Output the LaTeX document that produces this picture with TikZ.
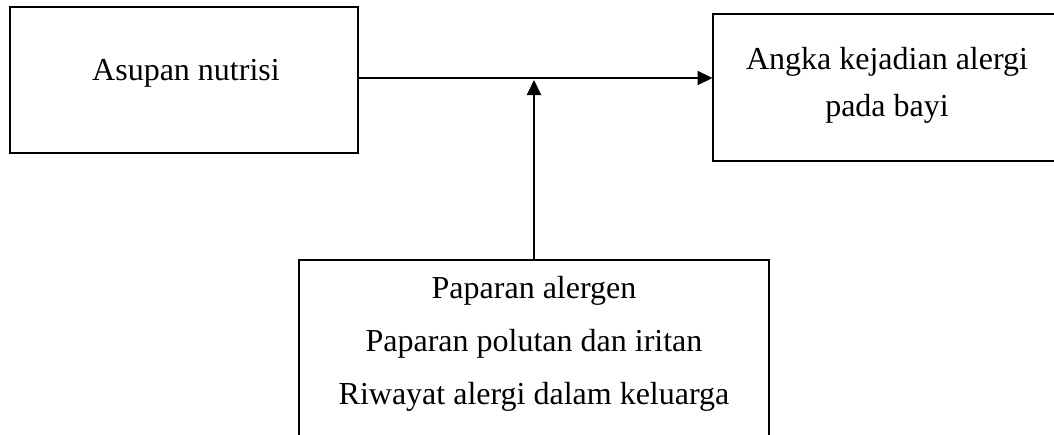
\documentclass[tikz,border=0pt]{standalone}
\usepackage{fontspec}
\setmainfont{Liberation Serif}
\usetikzlibrary{arrows.meta}
\begin{document}
\begin{tikzpicture}[x=0.5pt,y=-0.5pt,
  box/.style={draw=black,line width=1pt,inner sep=0pt,outer sep=0pt,rectangle},
  txt/.style={anchor=base,inner sep=0pt,font=\fontsize{16}{19}\selectfont},
  arr/.style={line width=1pt,-{Triangle[length=7.5pt,width=7pt]}}]
\clip (0,0) rectangle (1054,434);
\fill[white] (0,0) rectangle (1054,434);
% boxes
\node[box,minimum width=174pt,minimum height=73pt] (L) at (184,80) {};
\node[box,minimum width=174pt,minimum height=73.25pt] (R) at (886.5,87.25) {};
\node[box,minimum width=235pt,minimum height=90pt] (B) at (534,350) {};
% texts
\node[txt] (tL) at (186,80) {Asupan nutrisi};
\node[txt] (tR1) at (887,69.5) {Angka kejadian alergi};
\node[txt] (tR2) at (887,116) {pada bayi};
\node[txt] (tB1) at (534,298.5) {Paparan alergen};
\node[txt] (tB2) at (534,351.5) {Paparan polutan dan iritan};
\node[txt] (tB3) at (534,404.5) {Riwayat alergi dalam keluarga};
% connectors
\coordinate (m) at (534,80);
\draw[arr] ([yshift=1pt]L.east) -- ([yshift=1pt]L.east -| R.west);
\draw[arr] (B.north) -- (m);
\end{tikzpicture}
\end{document}
